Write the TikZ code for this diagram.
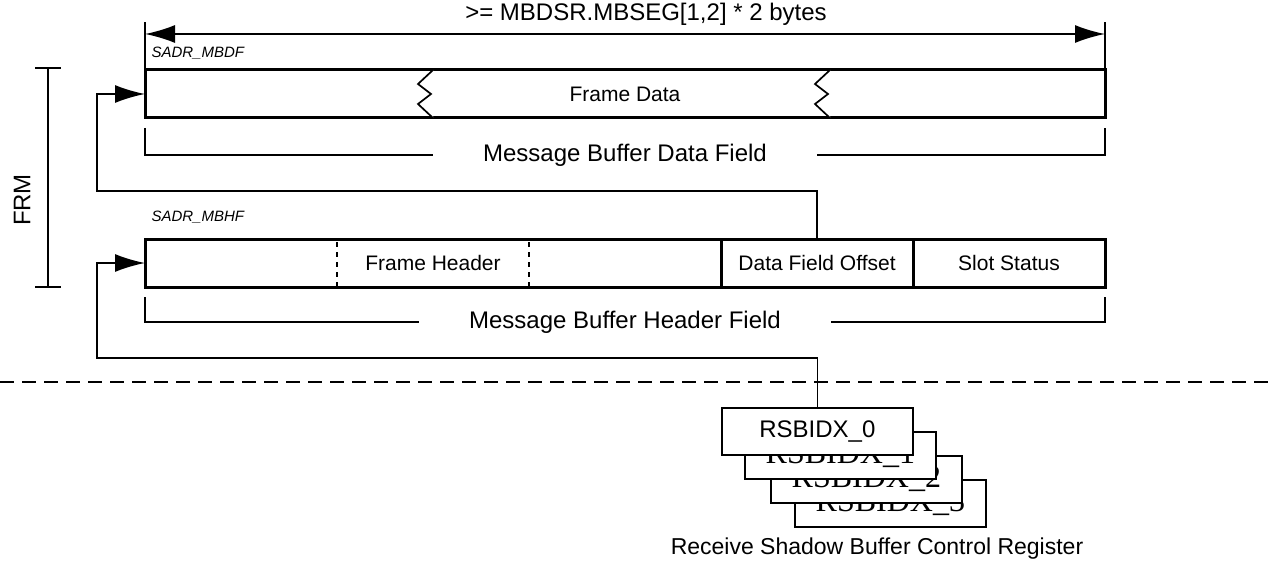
\documentclass[tikz,border=0pt]{standalone}
\usepackage{fontspec}
\setmainfont{Liberation Sans}
\newfontfamily\regserif{Liberation Serif}
\usetikzlibrary{arrows.meta,positioning}

\begin{document}
\begin{tikzpicture}[x=1pt,y=-1pt,
  fs/.style={font=\fontsize{#1}{#1}\selectfont},
  fld/.style={draw,line width=3pt,minimum height=48pt,inner sep=0pt,outer sep=0pt,fs=21},
  ln/.style={line width=1.7pt},
  arr/.style={-{Latex[length=30pt,width=18pt]},line width=1.7pt},
  reg/.style={draw,line width=1.8pt,fill=white,minimum width=191pt,minimum height=47pt,inner sep=0pt}]
\useasboundingbox (0,0) rectangle (1276,564);

% data field
\node[fld,minimum width=960pt,anchor=north west] (fd) at (145,70) {Frame Data};
\foreach \zx in {433,830}
  \draw[ln,fill=white] (\zx,70) -- ++(-15,14) -- ++(13,10) -- ++(-13,10) -- ++(15,14);
\node[anchor=west,fs=15] (sadrf) at (148,53) {\itshape SADR\_MBDF};
\draw[ln] (fd.north west) -- ++(0,-48);
\draw[ln] (fd.north east) -- ++(0,-48);
\coordinate (dl) at (145,34);
\coordinate (dr) at (1105,34);
\draw[ln,{Latex[length=30pt,width=18pt]}-{Latex[length=30pt,width=18pt]}] (dl) -- (dr);
\node[fs=24] (dimtxt) at (646,14) {>= MBDSR.MBSEG[1,2] * 2 bytes};
\draw[ln] (145,128) |- node[pos=0.75,fill=white,inner xsep=50pt,fs=24] {Message Buffer Data Field} (1105,155) -- (1105,128);

% header field
\node[fld,minimum width=576pt,anchor=north west] (fh) at (145,239) {Frame Header};
\node[fld,minimum width=192pt,right=0pt of fh] (dfo) {Data Field Offset};
\node[fld,minimum width=192pt,right=0pt of dfo] (ss) {Slot Status};
\foreach \dx in {337,529}
  \draw[line width=1.5pt,dash pattern=on 5pt off 5pt,dash phase=-3pt] (\dx,239) -- (\dx,287);
\node[anchor=west,fs=15] (sadrh) at (148,217) {\itshape SADR\_MBHF};
\draw[ln] (145,297) |- node[pos=0.75,fill=white,inner xsep=50pt,fs=24] {Message Buffer Header Field} (1105,322) -- (1105,297);

% FRM
\draw[ln] (35,68) -- (61,68) (48,68) -- (48,287) (35,287) -- (61,287);
\node[fs=24,rotate=90] (frm) at (22,200) {FRM};

% links
\coordinate (j1) at (97,191);
\coordinate (j2) at (97,358);
\draw[arr] (dfo.north) |- (j1) |- (fd.west);

\draw[line width=2.5pt,dash pattern=on 14pt off 8pt] (0,382) -- (1276,382);

% shadow registers
\foreach \i/\dx/\dy in {3/73/72,2/49/48,1/23/24}
  \node[reg,anchor=north west,font=\regserif\fontsize{32}{32}\selectfont] (rs\i) at (721+\dx,407+\dy) {RSBIDX\_\i};
\node[reg,anchor=north west,fs=24] (rs0) at (721,407) {RSBIDX\_0};
\node[fs=23] (rslbl) at (877,549) {Receive Shadow Buffer Control Register};
\draw[arr] (rs0.north) |- (j2) |- (fh.west);
\end{tikzpicture}
\end{document}
